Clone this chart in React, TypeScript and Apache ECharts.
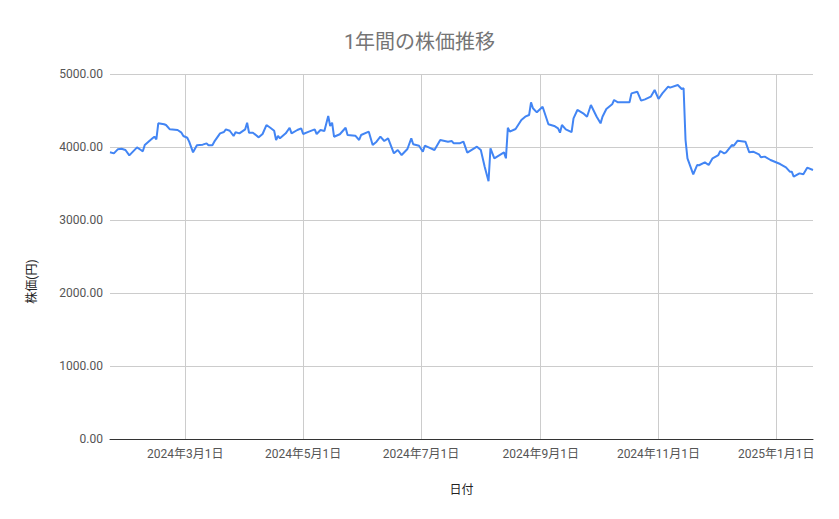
import React, { useEffect, useRef } from 'react';
import * as echarts from 'echarts';

// 日付と終値（グラフから読み取った概算値）
const dates = [
    '2024-01-22', '2024-01-24', '2024-01-26', '2024-01-28', '2024-01-30', '2024-02-01', '2024-02-05', '2024-02-07',
    '2024-02-08', '2024-02-09', '2024-02-13', '2024-02-14', '2024-02-15', '2024-02-16', '2024-02-19', '2024-02-20',
    '2024-02-22', '2024-02-26', '2024-02-28', '2024-02-29', '2024-03-02', '2024-03-03', '2024-03-05', '2024-03-07',
    '2024-03-10', '2024-03-12', '2024-03-13', '2024-03-15', '2024-03-16', '2024-03-19', '2024-03-21', '2024-03-22',
    '2024-03-24', '2024-03-26', '2024-03-27', '2024-03-29', '2024-04-01', '2024-04-02', '2024-04-03', '2024-04-05',
    '2024-04-08', '2024-04-10', '2024-04-12', '2024-04-14', '2024-04-16', '2024-04-17', '2024-04-18', '2024-04-19',
    '2024-04-22', '2024-04-24', '2024-04-25', '2024-04-28', '2024-04-30', '2024-05-01', '2024-05-04', '2024-05-07',
    '2024-05-08', '2024-05-10', '2024-05-12', '2024-05-14', '2024-05-15', '2024-05-16', '2024-05-17', '2024-05-20',
    '2024-05-23', '2024-05-24', '2024-05-28', '2024-05-30', '2024-05-31', '2024-06-04', '2024-06-06', '2024-06-08',
    '2024-06-10', '2024-06-12', '2024-06-14', '2024-06-17', '2024-06-19', '2024-06-21', '2024-06-24', '2024-06-26',
    '2024-06-27', '2024-06-30', '2024-07-02', '2024-07-03', '2024-07-05', '2024-07-08', '2024-07-11', '2024-07-15',
    '2024-07-17', '2024-07-18', '2024-07-21', '2024-07-23', '2024-07-25', '2024-07-30', '2024-08-01', '2024-08-03',
    '2024-08-05', '2024-08-06', '2024-08-08', '2024-08-13', '2024-08-14', '2024-08-15', '2024-08-16', '2024-08-19',
    '2024-08-22', '2024-08-24', '2024-08-26', '2024-08-27', '2024-08-28', '2024-08-30', '2024-09-02', '2024-09-05',
    '2024-09-08', '2024-09-10', '2024-09-11', '2024-09-12', '2024-09-14', '2024-09-17', '2024-09-18', '2024-09-20',
    '2024-09-23', '2024-09-25', '2024-09-27', '2024-09-30', '2024-10-02', '2024-10-03', '2024-10-05', '2024-10-08',
    '2024-10-09', '2024-10-11', '2024-10-17', '2024-10-18', '2024-10-21', '2024-10-23', '2024-10-25', '2024-10-28',
    '2024-10-30', '2024-11-01', '2024-11-03', '2024-11-06', '2024-11-07', '2024-11-11', '2024-11-13', '2024-11-14',
    '2024-11-15', '2024-11-16', '2024-11-19', '2024-11-21', '2024-11-22', '2024-11-25', '2024-11-27', '2024-11-29',
    '2024-12-02', '2024-12-03', '2024-12-05', '2024-12-06', '2024-12-09', '2024-12-10', '2024-12-12', '2024-12-16',
    '2024-12-18', '2024-12-20', '2024-12-23', '2024-12-24', '2024-12-26', '2024-12-29', '2025-01-03', '2025-01-06',
    '2025-01-08', '2025-01-09', '2025-01-10', '2025-01-13', '2025-01-15', '2025-01-17', '2025-01-20',
];

const prices = [
    3927, 3913, 3968, 3977, 3959, 3886, 3995, 3959,
    3941, 4027, 4119, 4141, 4105, 4325, 4311, 4301,
    4242, 4233, 4196, 4151, 4127, 4073, 3927, 4023,
    4032, 4050, 4023, 4023, 4073, 4187, 4205, 4242,
    4223, 4151, 4201, 4187, 4242, 4333, 4196, 4196,
    4132, 4178, 4301, 4264, 4223, 4096, 4151, 4119,
    4187, 4264, 4187, 4233, 4256, 4178, 4210, 4242,
    4178, 4233, 4219, 4425, 4288, 4333, 4141, 4175,
    4264, 4164, 4155, 4096, 4164, 4210, 4027, 4073,
    4141, 4082, 4119, 3913, 3959, 3890, 3973, 4119,
    4037, 4018, 3936, 4018, 3995, 3959, 4096, 4073,
    4082, 4050, 4050, 4073, 3922, 4005, 3959, 3730,
    3530, 3982, 3845, 3927, 3845, 4264, 4210, 4247,
    4370, 4415, 4438, 4612, 4530, 4475, 4552, 4311,
    4288, 4256, 4196, 4301, 4242, 4205, 4393, 4507,
    4461, 4415, 4575, 4415, 4324, 4415, 4521, 4585,
    4644, 4612, 4612, 4735, 4758, 4635, 4653, 4689,
    4781, 4658, 4735, 4826, 4813, 4849, 4795, 4804,
    4096, 3845, 3626, 3753, 3750, 3790, 3753, 3845,
    3890, 3945, 3913, 3927, 4027, 4018, 4087, 4073,
    3927, 3936, 3900, 3859, 3868, 3822, 3767, 3722,
    3662, 3662, 3593, 3639, 3626, 3717, 3685,
];

// x軸の目盛り（2か月ごと）
const monthTicks = ['2024-03-01', '2024-05-01', '2024-07-01', '2024-09-01', '2024-11-01', '2025-01-01'];
const xStart = '2024-01-22';
const xEnd = '2025-01-20';

const toTime = (s: string) => {
    const [y, m, d] = s.split('-').map(Number);
    return new Date(y, m - 1, d).getTime();
};

const FONT = 'Roboto, "Noto Sans CJK JP", sans-serif';

export default function App() {
    const chartRef = useRef<HTMLDivElement>(null);

    useEffect(() => {
        const chart = echarts.init(chartRef.current!, null, { renderer: 'svg' });
        const ticks = monthTicks.map(toTime);

        chart.setOption({
            animation: false,
            textStyle: { fontFamily: FONT },
            title: {
                text: '1年間の株価推移',
                left: 'center',
                top: 27,
                textStyle: {
                    color: '#757575',
                    fontSize: 20,
                    fontWeight: 'normal',
                    fontFamily: FONT,
                },
            },
            grid: {
                left: 110,
                right: 26,
                top: 74,
                bottom: 80,
            },
            // 日付はタイムスタンプの数値軸で扱い、目盛りは月初に置く
            xAxis: {
                type: 'value',
                min: toTime(xStart),
                max: toTime(xEnd),
                name: '日付',
                nameLocation: 'middle',
                nameGap: 45,
                nameTextStyle: { color: '#222', fontSize: 12, fontFamily: FONT },
                axisLine: { lineStyle: { color: '#333', width: 1 } },
                axisTick: { show: false, customValues: ticks },
                axisLabel: {
                    customValues: ticks,
                    color: '#555',
                    fontSize: 12,
                    margin: 9,
                    fontFamily: FONT,
                    formatter: (v: number) => {
                        const d = new Date(v);
                        return `${d.getFullYear()}年${d.getMonth() + 1}月${d.getDate()}日`;
                    },
                },
                splitLine: { show: true, lineStyle: { color: '#cccccc', width: 1 } },
            },
            yAxis: {
                type: 'value',
                min: 0,
                max: 5000,
                interval: 1000,
                name: '株価(円)',
                nameLocation: 'middle',
                nameGap: 72,
                nameRotate: 90,
                nameTextStyle: { color: '#222', fontSize: 12, fontFamily: FONT, padding: [0, 50, 0, 0] },
                axisLine: { show: false },
                axisTick: { show: false },
                axisLabel: {
                    color: '#555',
                    fontSize: 12,
                    margin: 7,
                    fontFamily: FONT,
                    formatter: (v: number) => v.toFixed(2),
                },
                splitLine: { lineStyle: { color: '#cccccc', width: 1 } },
            },
            series: [
                {
                    type: 'line',
                    data: dates.map((d, i) => [toTime(d), prices[i]]),
                    showSymbol: false,
                    lineStyle: { color: '#4285f4', width: 2 },
                    itemStyle: { color: '#4285f4' },
                },
            ],
        });

        return () => {
            chart.dispose();
        };
    }, []);

    return (
        <div
            ref={chartRef}
            style={{ position: 'fixed', left: 0, top: 0, width: 839, height: 519, background: '#fff' }}
        />
    );
}
